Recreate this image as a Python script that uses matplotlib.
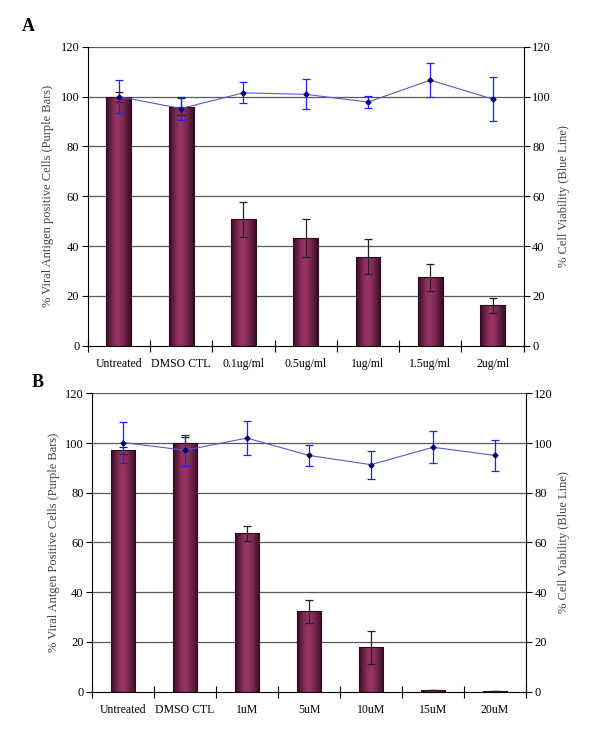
import numpy as np
import matplotlib
matplotlib.use("Agg")
import matplotlib.pyplot as plt
from matplotlib.colors import LinearSegmentedColormap

plt.rcParams['font.family'] = ['Liberation Serif', 'DejaVu Serif']

# ---------------- data ----------------
cats_a = ["Untreated", "DMSO CTL", "0.1ug/ml", "0.5ug/ml", "1ug/ml", "1.5ug/ml", "2ug/ml"]
bars_a = [100, 96, 50.8, 43.2, 35.7, 27.4, 16.2]
bars_a_err = [2, 3.5, 7, 7.5, 7, 5.3, 3]
line_a = [100, 95.2, 101.5, 100.9, 97.8, 106.6, 99]
line_a_err = [6.6, 4.7, 4.2, 6, 2.5, 6.8, 9]

cats_b = ["Untreated", "DMSO CTL", "1uM", "5uM", "10uM", "15uM", "20uM"]
bars_b = [97.1, 100, 63.7, 32.3, 17.8, 0.8, 0.4]
bars_b_err = [1.5, 2.5, 3, 4.6, 6.5, 0, 0]
line_b = [100.2, 97.1, 102, 95, 91.3, 98.3, 95]
line_b_err = [8.3, 6.2, 6.8, 4.3, 5.6, 6.4, 6.3]

yticks = [0, 20, 40, 60, 80, 100, 120]
left_label_a = "% Viral Antigen positive Cells (Purple Bars)"
left_label_b = "% Viral Antgen Positive Cells (Purple Bars)"
right_label = "% Cell Viability (Blue Line)"

cmap = LinearSegmentedColormap.from_list(
    "cyl", [(0, "#3a0e26"), (0.35, "#8e2f5e"), (0.5, "#9a3566"),
            (0.7, "#7a2850"), (1, "#3a0e26")])
grad = np.linspace(0, 1, 64).reshape(1, -1)


def panel(fig, rect, cats, bars, berr, line, lerr, ylab, letter, letter_xy, ylab_x, rlab_x):
    ax = fig.add_axes(rect)
    x = np.arange(len(cats))
    ax.set_xlim(-0.5, len(cats) - 0.5)
    ax.set_ylim(0, 120)
    for g in yticks[1:]:
        ax.axhline(g, color="#5a5a5a", lw=0.9, zorder=0)
    bc = ax.bar(x, bars, width=0.4, color="none", edgecolor="#2a0a1c", lw=0.8, zorder=2)
    for p in bc.patches:
        x0, y0 = p.get_x(), p.get_y()
        w, h = p.get_width(), p.get_height()
        if h <= 0:
            continue
        im = ax.imshow(grad, extent=[x0, x0 + w, y0, y0 + h], aspect="auto",
                       cmap=cmap, zorder=1.5, interpolation="bicubic")
        im.set_clip_path(p)
    ax.errorbar(x, bars, yerr=berr, fmt="none", ecolor="#222222", elinewidth=0.9,
                capsize=3, capthick=0.9, zorder=3)
    ax.set_yticks(yticks)
    ax.set_xticks(x)
    ax.set_xticklabels(cats)
    ax.set_xticks(np.arange(-0.5, len(cats)), minor=True)
    ax.tick_params(axis="x", which="major", length=0, pad=9, labelsize=8.5)
    ax.tick_params(axis="x", which="minor", length=8, direction="inout", width=0.8)
    ax.tick_params(axis="y", length=4, width=0.8, labelsize=9, pad=2)
    for s in ["top", "right"]:
        ax.spines[s].set_visible(False)
    ax.spines["left"].set_linewidth(0.8)
    ax.spines["bottom"].set_linewidth(0.8)
    ax.set_ylabel(ylab, fontsize=9, color="#444444")
    ax.yaxis.set_label_coords(ylab_x, 0.5)

    ax2 = ax.twinx()
    ax2.set_ylim(0, 120)
    ax2.set_yticks(yticks)
    ax2.errorbar(x, line, yerr=lerr, fmt="none", ecolor="#2020ff", elinewidth=0.9,
                 capsize=3, capthick=0.9, zorder=4)
    ax2.plot(x, line, color="#5a5ac8", lw=0.8, zorder=5)
    ax2.plot(x, line, ls="none", marker="D", ms=2.5, color="#000070", zorder=6)
    for s in ["top", "left", "bottom"]:
        ax2.spines[s].set_visible(False)
    ax2.spines["right"].set_linewidth(0.8)
    ax2.tick_params(axis="y", length=4, width=0.8, labelsize=9, pad=2)
    ax2.set_ylabel(right_label, fontsize=9, color="#444444")
    ax2.yaxis.set_label_coords(rlab_x, 0.5)
    fig.text(letter_xy[0], letter_xy[1], letter, fontsize=13, fontweight="bold",
             ha="left", va="center")
    return ax


fig = plt.figure(figsize=(6.0, 7.48), dpi=100)
panel(fig, [0.146, 0.5378, 0.727, 0.3997], cats_a, bars_a, bars_a_err, line_a, line_a_err,
      left_label_a, "A", (0.037, 0.964), -0.076, 1.078)
panel(fig, [0.1533, 0.0753, 0.7233, 0.3989], cats_b, bars_b, bars_b_err, line_b, line_b_err,
      left_label_b, "B", (0.052, 0.489), -0.074, 1.074)
fig.savefig("out.png", dpi=100)
